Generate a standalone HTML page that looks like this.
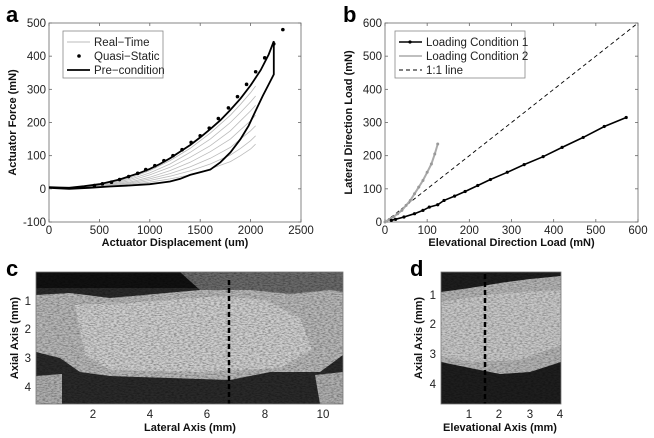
<!DOCTYPE html>
<html><head><meta charset="utf-8"><style>
body{margin:0;background:#fff}
svg{display:block;font-family:"Liberation Sans",sans-serif}
.t{font-size:11.5px;fill:#222}
.lab{font-size:11px;font-weight:bold;fill:#111}
.let{font-size:22px;font-weight:bold;fill:#000}
</style></head><body>
<svg id="fig" width="654" height="438" viewBox="0 0 654 438">
<defs>
<filter id="spk" x="0" y="0" width="100%" height="100%">
<feTurbulence type="fractalNoise" baseFrequency="0.35 0.9" numOctaves="2" seed="3"/>
<feColorMatrix type="matrix" values="0 0 0 0 0  0 0 0 0 0  0 0 0 0 0  0 0 0 1.6 -0.6"/>
</filter>
</defs>
<text class="let" x="6" y="22">a</text>
<text class="let" x="343" y="22">b</text>
<text class="let" x="6" y="276">c</text>
<text class="let" x="410" y="276">d</text>
<g id="pa"></g>
<g id="pb"></g>

<g>
<rect x="36" y="272" width="307" height="132" fill="#2a2a2a"/>
<rect x="36" y="272" width="307" height="16" fill="#111"/>
<path d="M180,272 L343,272 L343,300 L250,296 L200,290 Z" fill="#6a6a6a"/>
<path d="M36,295 L70,293 L110,298 L200,290 L250,290 L290,294 L330,290 L343,292 L343,355 L320,372 L270,372 L230,380 L170,378 L110,376 L80,372 L60,358 L36,352 Z" fill="#b8b8b8"/>
<path d="M75,305 L130,303 L220,296 L265,300 L300,318 L312,350 L280,368 L200,372 L110,370 L85,355 Z" fill="#cfcfcf"/>
<path d="M36,376 L62,374 L62,404 L36,404 Z" fill="#b0b0b0"/>
<path d="M315,375 L343,372 L343,404 L320,404 Z" fill="#b0b0b0"/>
<rect x="36" y="272" width="307" height="132" filter="url(#spk)" opacity="0.5"/>
<line x1="229" y1="280" x2="229" y2="404" stroke="#000" stroke-width="2.5" stroke-dasharray="5,3"/>
<rect x="36" y="272" width="307" height="132" fill="none" stroke="#777" stroke-width="0.8"/>
</g>
<g>
<text class="t" x="31" y="305" text-anchor="end">1</text>
<text class="t" x="31" y="333" text-anchor="end">2</text>
<text class="t" x="31" y="362" text-anchor="end">3</text>
<text class="t" x="31" y="391" text-anchor="end">4</text>
<text class="t" x="93" y="418" text-anchor="middle">2</text>
<text class="t" x="150" y="418" text-anchor="middle">4</text>
<text class="t" x="207" y="418" text-anchor="middle">6</text>
<text class="t" x="265" y="418" text-anchor="middle">8</text>
<text class="t" x="323" y="418" text-anchor="middle">10</text>
<text class="lab" x="190" y="431" text-anchor="middle">Lateral Axis (mm)</text>
<text class="lab" transform="translate(18,338) rotate(-90)" text-anchor="middle">Axial Axis (mm)</text>
</g>

<g>
<rect x="441" y="272" width="120" height="132" fill="#1e1e1e"/>
<path d="M441,292 L470,288 L500,283 L530,279 L561,276 L561,362 L530,372 L500,374 L470,368 L441,362 Z" fill="#b4b4b4"/>
<path d="M441,302 L500,293 L561,290 L561,345 L520,360 L470,362 L441,356 Z" fill="#c8c8c8"/>
<rect x="441" y="272" width="120" height="132" filter="url(#spk)" opacity="0.45"/>
<line x1="485" y1="274" x2="485" y2="404" stroke="#000" stroke-width="2.5" stroke-dasharray="5,3"/>
<rect x="441" y="272" width="120" height="132" fill="none" stroke="#777" stroke-width="0.8"/>
</g>
<g>
<text class="t" x="436" y="299" text-anchor="end">1</text>
<text class="t" x="436" y="328" text-anchor="end">2</text>
<text class="t" x="436" y="358" text-anchor="end">3</text>
<text class="t" x="436" y="388" text-anchor="end">4</text>
<text class="t" x="469" y="418" text-anchor="middle">1</text>
<text class="t" x="499" y="418" text-anchor="middle">2</text>
<text class="t" x="530" y="418" text-anchor="middle">3</text>
<text class="t" x="560" y="418" text-anchor="middle">4</text>
<text class="lab" x="500" y="431" text-anchor="middle">Elevational Axis (mm)</text>
<text class="lab" transform="translate(422,338) rotate(-90)" text-anchor="middle">Axial Axis (mm)</text>
</g>
</svg>
<script>
// Panel a data
const aXTicks=[0,500,1000,1500,2000,2500];
const aYTicks=[-100,0,100,200,300,400,500];
const qsDisp=[450,530,620,700,790,880,960,1050,1140,1230,1320,1410,1500,1590,1680,1780,1870,1960,2050,2140,2230,2320];
const qsForce=[10,15,20,28,37,47,58,70,85,100,118,140,160,183,212,244,278,315,353,395,437,480];
const preDisp=[0,100,200,350,500,700,900,1000,1100,1200,1300,1400,1500,1600,1700,1800,1900,2000,2100,2180,2230,2230,2180,2120,2050,1980,1900,1800,1700,1600,1500,1400,1300,1200,1100,1000,800,600,400,200,0];
const preForce=[5,4,3,8,14,28,48,60,75,92,112,132,155,180,207,238,272,312,358,405,445,345,315,280,235,190,150,110,80,58,50,42,30,22,18,14,10,7,3,0,3];
const rtDisp=[0,200,500,800,1000,1200,1400,1600,1800,1900,2000,2050];
const rt1=[3,2,12,32,55,85,122,168,222,255,290,310];
const rt2=[3,2,10,28,48,75,110,150,200,230,262,280];
const rt3=[3,2,9,24,42,65,95,130,175,205,235,252];
const rt4=[3,2,8,20,35,55,80,112,150,178,205,222];
const rt5=[3,2,7,17,30,46,66,92,125,150,175,190];
const rt6=[3,2,6,14,25,38,54,75,102,122,145,160];
const rt7=[3,2,5,12,20,30,42,60,82,100,120,135];
// Panel b data
const bXTicks=[0,100,200,300,400,500,600];
const bYTicks=[0,100,200,300,400,500,600];
const lc1X=[15,25,45,70,90,105,125,140,165,190,220,250,290,330,375,420,470,520,572];
const lc1Y=[5,8,15,25,35,45,52,65,78,92,110,128,150,173,197,225,255,288,315];
const lc2X=[0,10,20,30,40,50,60,70,80,90,100,110,118,125];
const lc2Y=[0,8,15,25,35,50,65,85,105,125,150,175,205,235];
const oneX=[0,600];
const oneY=[0,600];

const NS='http://www.w3.org/2000/svg';
function mk(p,tag,at){const e=document.createElementNS(NS,tag);for(const k in at)e.setAttribute(k,at[k]);p.appendChild(e);return e;}
function frame(g,L,T,R,B,xs,ys,xt,yt,xlab,ylab,pref){
  mk(g,'rect',{x:L,y:T,width:R-L,height:B-T,fill:'#fff',stroke:'#666','stroke-width':0.8});
  xt.forEach(v=>{const x=xs(v);
    mk(g,'line',{x1:x,y1:B,x2:x,y2:B-3,stroke:'#666','stroke-width':0.8});
    mk(g,'line',{x1:x,y1:T,x2:x,y2:T+3,stroke:'#666','stroke-width':0.8});
    const t=mk(g,'text',{x:x,y:B+12,'text-anchor':'middle',class:'t'});t.textContent=v;
    
    });
  yt.forEach(v=>{const y=ys(v);
    mk(g,'line',{x1:L,y1:y,x2:L+3,y2:y,stroke:'#666','stroke-width':0.8});
    mk(g,'line',{x1:R,y1:y,x2:R-3,y2:y,stroke:'#666','stroke-width':0.8});
    const t=mk(g,'text',{x:L-3,y:y+4,'text-anchor':'end',class:'t'});t.textContent=v;
    
    });
  const xl=mk(g,'text',{x:(L+R)/2,y:B+24,'text-anchor':'middle',class:'lab'});xl.textContent=xlab;
  
  
  const yl=mk(g,'text',{transform:`translate(${L-33},${(T+B)/2}) rotate(-90)`,'text-anchor':'middle',class:'lab'});yl.textContent=ylab;
  
  
}
function pts(X,Y,xs,ys){return X.map((v,i)=>xs(v).toFixed(1)+','+ys(Y[i]).toFixed(1)).join(' ');}

// Panel a
(function(){
const g=document.getElementById('pa');
const L=49,R=301,T=23,B=222;
const xs=v=>L+(v/2500)*(R-L), ys=v=>B-((v+100)/600)*(B-T);
frame(g,L,T,R,B,xs,ys,aXTicks,aYTicks,'Actuator Displacement (um)','Actuator Force (mN)','panel-a');
[rt1,rt2,rt3,rt4,rt5,rt6,rt7].forEach(r=>{
  const p=mk(g,'polyline',{points:pts(rtDisp,r,xs,ys),fill:'none',stroke:'#bbb','stroke-width':0.8});
  
  
});
const pc=mk(g,'polyline',{points:pts(preDisp,preForce,xs,ys),fill:'none',stroke:'#000','stroke-width':1.8});


qsDisp.forEach((d,i)=>{const c=mk(g,'circle',{cx:xs(d),cy:ys(qsForce[i]),r:1.8,fill:'#000'});
  
  });
const lg=mk(g,'g',{});


mk(lg,'rect',{x:63,y:31,width:100,height:47,fill:'#fff',stroke:'#888','stroke-width':0.8});
mk(lg,'line',{x1:67,y1:42,x2:90,y2:42,stroke:'#bbb','stroke-width':1});
mk(lg,'circle',{cx:79,cy:56,r:1.8,fill:'#000'});
mk(lg,'line',{x1:67,y1:70,x2:90,y2:70,stroke:'#000','stroke-width':1.8});
[['Real\u2212Time',46],['Quasi\u2212Static',60],['Pre\u2212condition',74]].forEach(([s,y])=>{const t=mk(lg,'text',{x:94,y:y,class:'t'});t.textContent=s;});
})();

// Panel b
(function(){
const g=document.getElementById('pb');
const L=385,R=638,T=23,B=222;
const xs=v=>L+(v/600)*(R-L), ys=v=>B-(v/600)*(B-T);
frame(g,L,T,R,B,xs,ys,bXTicks,bYTicks,'Elevational Direction Load (mN)','Lateral Direction Load (mN)','panel-b');
const one=mk(g,'polyline',{points:pts(oneX,oneY,xs,ys),fill:'none',stroke:'#000','stroke-width':0.9,'stroke-dasharray':'4,3'});


const l2=mk(g,'polyline',{points:pts(lc2X,lc2Y,xs,ys),fill:'none',stroke:'#aaa','stroke-width':2});


lc2X.forEach((x,i)=>{const c=mk(g,'circle',{cx:xs(x),cy:ys(lc2Y[i]),r:1.5,fill:'#999'});
  
  });
const l1=mk(g,'polyline',{points:pts(lc1X,lc1Y,xs,ys),fill:'none',stroke:'#000','stroke-width':1.6});


lc1X.forEach((x,i)=>{const c=mk(g,'circle',{cx:xs(x),cy:ys(lc1Y[i]),r:1.6,fill:'#000'});
  
  });
const lg=mk(g,'g',{});


mk(lg,'rect',{x:395,y:31,width:130,height:47,fill:'#fff',stroke:'#888','stroke-width':0.8});
mk(lg,'line',{x1:399,y1:42,x2:422,y2:42,stroke:'#000','stroke-width':1.6});
mk(lg,'circle',{cx:410,cy:42,r:1.6,fill:'#000'});
mk(lg,'line',{x1:399,y1:56,x2:422,y2:56,stroke:'#aaa','stroke-width':1.6});
mk(lg,'line',{x1:399,y1:70,x2:422,y2:70,stroke:'#000','stroke-width':0.9,'stroke-dasharray':'4,3'});
[['Loading Condition 1',46],['Loading Condition 2',60],['1:1 line',74]].forEach(([s,y])=>{const t=mk(lg,'text',{x:426,y:y,class:'t'});t.textContent=s;});
})();
</script>
</body></html>
